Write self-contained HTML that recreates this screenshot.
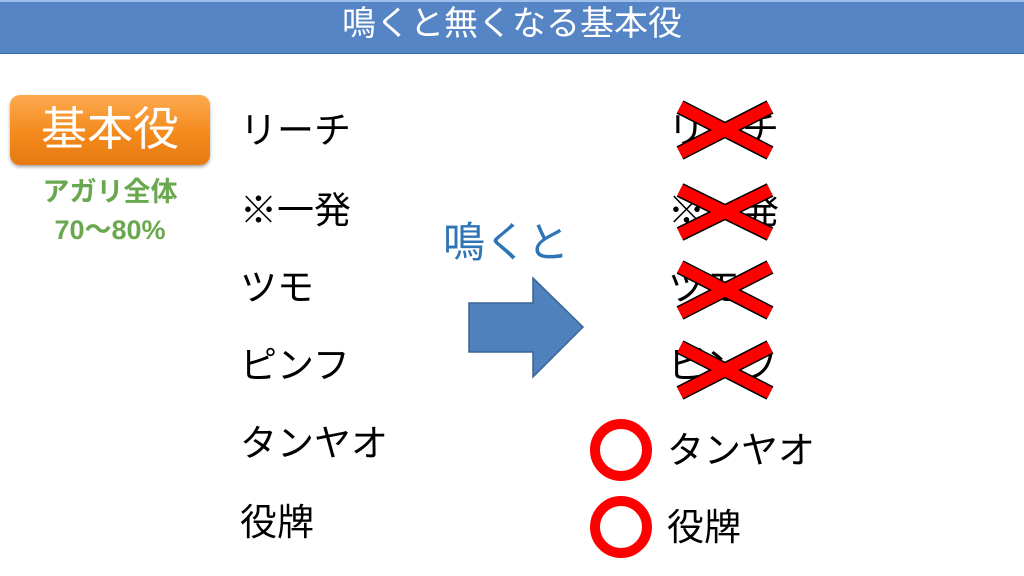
<!DOCTYPE html>
<html><head><meta charset="utf-8"><style>
body{margin:0;width:1024px;height:576px;background:#fff;position:relative;overflow:hidden;font-family:"Liberation Sans","Noto Sans CJK JP",sans-serif;}
.t{position:absolute;white-space:nowrap;line-height:1;}
.l{font-size:37px;color:#000;height:37px;}
</style></head><body>
<div style="position:absolute;left:0;top:0;width:1024px;height:54px;background:#5585c5;border-top:2px solid #9dc0ea;border-bottom:1px solid #3a6aa8;box-sizing:border-box;"></div>
<div class="t" style="left:0;width:1024px;top:7px;text-align:center;color:#fff;font-size:34px;">鳴くと無くなる基本役</div>

<div style="position:absolute;left:10px;top:95px;width:200px;height:70px;border-radius:10px;background:linear-gradient(#fcaa50,#f48a1c 55%,#e67a10);box-shadow:0 2px 3px rgba(0,0,0,0.35);"></div>
<div class="t" style="left:10px;width:200px;top:106px;text-align:center;color:#fff;font-size:46px;">基本役</div>
<div class="t" style="left:10px;width:200px;top:179px;text-align:center;color:#6aa84f;font-size:27px;font-weight:bold;">アガリ全体</div>
<div class="t" style="left:10px;width:200px;top:217px;text-align:center;color:#6aa84f;font-size:27px;font-weight:bold;">70～80%</div>

<div class="t l" style="left:240px;top:112px;">リーチ</div>
<div class="t l" style="left:240px;top:192px;">※一発</div>
<div class="t l" style="left:240px;top:269px;">ツモ</div>
<div class="t l" style="left:240px;top:347px;">ピンフ</div>
<div class="t l" style="left:240px;top:425px;">タンヤオ</div>
<div class="t l" style="left:240px;top:504px;">役牌</div>

<div class="t" style="left:443px;top:222px;color:#2e75b6;font-size:42px;">鳴くと</div>

<div class="t l" style="left:668px;top:112px;">リーチ</div>
<div class="t l" style="left:668px;top:192px;">※一発</div>
<div class="t l" style="left:668px;top:269px;">ツモ</div>
<div class="t l" style="left:668px;top:347px;">ピンフ</div>
<div class="t l" style="left:667px;top:432px;">タンヤオ</div>
<div class="t l" style="left:667px;top:509px;">役牌</div>

<svg width="1024" height="576" style="position:absolute;left:0;top:0">
<polygon points="469,303 533,303 533,278 583,327 533,377 533,352 469,352" fill="#4f81bd" stroke="#3a6494" stroke-width="1.5"/>
<g stroke="#000" stroke-width="15">
<line x1="680" y1="107" x2="770" y2="153"/><line x1="680" y1="153" x2="770" y2="107"/>
<line x1="680" y1="190" x2="770" y2="234"/><line x1="680" y1="234" x2="770" y2="190"/>
<line x1="680" y1="267" x2="770" y2="313"/><line x1="680" y1="313" x2="770" y2="267"/>
<line x1="680" y1="347" x2="770" y2="393"/><line x1="680" y1="393" x2="770" y2="347"/>
</g>
<g stroke="#f00" stroke-width="12">
<line x1="680" y1="107" x2="770" y2="153"/><line x1="680" y1="153" x2="770" y2="107"/>
<line x1="680" y1="190" x2="770" y2="234"/><line x1="680" y1="234" x2="770" y2="190"/>
<line x1="680" y1="267" x2="770" y2="313"/><line x1="680" y1="313" x2="770" y2="267"/>
<line x1="680" y1="347" x2="770" y2="393"/><line x1="680" y1="393" x2="770" y2="347"/>
</g>
<circle cx="621" cy="450" r="26" fill="none" stroke="#f00" stroke-width="10"/>
<circle cx="621" cy="527" r="26" fill="none" stroke="#f00" stroke-width="10"/>
</svg>
</body></html>
